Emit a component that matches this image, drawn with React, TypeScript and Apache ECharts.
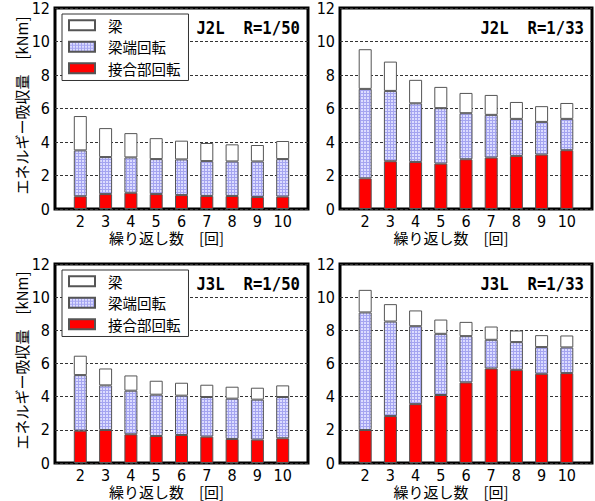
import React, { useEffect, useRef } from "react";
import * as echarts from "echarts";

// Loading cycle number on the x axis; the axis runs from 1 to 11, only 2-10 carry bars
const axisCycles = ["1", "2", "3", "4", "5", "6", "7", "8", "9", "10", "11"];
const cycles = [2, 3, 4, 5, 6, 7, 8, 9, 10];

const seriesNames = ["接合部回転", "梁端回転", "梁"];
const legendOrder = ["梁", "梁端回転", "接合部回転"];
const panelTitles = ["J2L  R=1/50", "J2L  R=1/33", "J3L  R=1/50", "J3L  R=1/33"];
const yTicks = [0, 2, 4, 6, 8, 10, 12];

// Energy absorption per component [kNm]
const j2l50Joint = [0.76, 0.89, 0.97, 0.89, 0.83, 0.78, 0.78, 0.72, 0.74];
const j2l50End = [2.74, 2.21, 2.11, 2.09, 2.13, 2.08, 2.06, 2.12, 2.24];
const j2l50Beam = [2.05, 1.73, 1.45, 1.25, 1.12, 1.08, 1.02, 0.98, 1.08];

const j2l33Joint = [1.83, 2.85, 2.81, 2.71, 2.97, 3.07, 3.17, 3.25, 3.51];
const j2l33End = [5.34, 4.2, 3.5, 3.31, 2.75, 2.55, 2.21, 1.95, 1.87];
const j2l33Beam = [2.37, 1.75, 1.4, 1.27, 1.21, 1.19, 1.01, 0.94, 0.95];

const j3l50Joint = [1.95, 1.99, 1.73, 1.63, 1.69, 1.59, 1.45, 1.41, 1.49];
const j3l50End = [3.35, 2.69, 2.63, 2.49, 2.37, 2.39, 2.43, 2.41, 2.49];
const j3l50Beam = [1.17, 1.02, 0.92, 0.84, 0.78, 0.74, 0.72, 0.72, 0.7];

const j3l33Joint = [1.99, 2.83, 3.55, 4.1, 4.86, 5.7, 5.62, 5.38, 5.42];
const j3l33End = [7.09, 5.7, 4.7, 3.69, 2.79, 1.73, 1.67, 1.61, 1.55];
const j3l33Beam = [1.36, 1.05, 0.95, 0.86, 0.86, 0.8, 0.7, 0.72, 0.72];

const panelData = [
  [j2l50Joint, j2l50End, j2l50Beam],
  [j2l33Joint, j2l33End, j2l33Beam],
  [j3l50Joint, j3l50End, j3l50Beam],
  [j3l33Joint, j3l33End, j3l33Beam],
];

const grids = [
  { left: 55, top: 8, width: 253, height: 201 },
  { left: 340, top: 8, width: 252, height: 201 },
  { left: 55, top: 264, width: 253, height: 199 },
  { left: 340, top: 264, width: 252, height: 199 },
];

const NUM_FONT = "'Liberation Sans Narrow', 'DejaVu Sans Condensed', 'Liberation Sans', sans-serif";
const JP_FONT = "'Noto Sans CJK JP', sans-serif";

function makeMeshPattern(): HTMLCanvasElement {
  const c = document.createElement("canvas");
  c.width = 3;
  c.height = 3;
  const ctx = c.getContext("2d")!;
  ctx.fillStyle = "#dcdcff";
  ctx.fillRect(0, 0, 3, 3);
  ctx.fillStyle = "#a4a4f0";
  ctx.fillRect(0, 0, 3, 1);
  ctx.fillRect(0, 0, 1, 3);
  return c;
}

// Place a value series onto the 1..11 category axis (empty at both ends)
function onAxis(vals: number[]): (number | null)[] {
  return axisCycles.map((c) => {
    const i = cycles.indexOf(Number(c));
    return i >= 0 ? vals[i] : null;
  });
}

export default function App() {
  const ref = useRef<HTMLDivElement>(null);

  useEffect(() => {
    if (!ref.current) return;
    const chart = echarts.init(ref.current, null, { renderer: "svg" });
    const mesh = makeMeshPattern();
    const fills = ["#ff0000", { image: mesh, repeat: "repeat" }, "#ffffff"];

    const series: any[] = [];
    panelData.forEach((comps, p) => {
      comps.forEach((vals, k) => {
        series.push({
          type: "bar",
          name: seriesNames[k],
          stack: "p" + p,
          xAxisIndex: p,
          yAxisIndex: p,
          barWidth: 13,
          itemStyle: { color: fills[k], borderColor: "#555", borderWidth: 1 },
          data: onAxis(vals),
        });
      });
    });

    const graphics: any[] = [];
    grids.forEach((g, p) => {
      graphics.push({
        type: "text",
        x: g.left + g.width - 8,
        y: g.top + 20,
        scaleX: 0.92,
        style: {
          text: panelTitles[p],
          fontFamily: "'DejaVu Sans Mono', monospace",
          fontWeight: "bold",
          fontSize: 17,
          fill: "#000",
          textAlign: "right",
          textVerticalAlign: "middle",
        },
      });
      graphics.push({
        type: "text",
        x: g.left + g.width / 2 - 15,
        y: g.top + g.height + 28,
        style: {
          text: "繰り返し数　[回]",
          fontFamily: JP_FONT,
          fontSize: 15,
          lineHeight: 15,
          fill: "#000",
          textAlign: "center",
          textVerticalAlign: "middle",
        },
      });
    });
    [0, 2].forEach((p) => {
      const g = grids[p];
      graphics.push({
        type: "text",
        x: 21,
        y: g.top + g.height / 2 - 3,
        rotation: Math.PI / 2,
        style: {
          text: "エネルギー吸収量　[kNm]",
          fontFamily: JP_FONT,
          fontSize: 15,
          fill: "#000",
          textAlign: "center",
          textVerticalAlign: "middle",
        },
      });
    });

    const legends = [0, 2].map((p) => ({
      orient: "vertical",
      left: grids[p].left + 7,
      top: grids[p].top + 6,
      data: legendOrder,
      icon: "rect",
      itemWidth: 26,
      itemHeight: 10,
      itemGap: 7,
      padding: [4, 8, 5, 6],
      backgroundColor: "#fff",
      borderColor: "#333",
      borderWidth: 1,
      selectedMode: false,
      textStyle: { fontFamily: JP_FONT, fontSize: 14.5, color: "#000", padding: [0, 0, 0, 8] },
    }));

    chart.setOption({
      animation: false,
      backgroundColor: "#fff",
      grid: grids.map((g) => ({
        ...g,
        show: true,
        borderColor: "#000",
        borderWidth: 3,
        backgroundColor: "transparent",
      })),
      xAxis: grids.map((_, p) => ({
        type: "category",
        gridIndex: p,
        data: axisCycles,
        boundaryGap: false,
        axisLine: { show: false },
        axisTick: { show: false },
        splitLine: { show: false },
        axisLabel: {
          margin: 5,
          interval: 0,
          fontFamily: NUM_FONT,
          fontSize: 16,
          lineHeight: 14,
          color: "#000",
          formatter: (v: string) => (v === "1" || v === "11" ? "" : v),
        },
      })),
      yAxis: grids.map((_, p) => ({
        type: "value",
        gridIndex: p,
        min: yTicks[0],
        max: yTicks[yTicks.length - 1],
        interval: 2,
        axisLine: { show: false },
        axisTick: { show: false },
        splitLine: { show: true, lineStyle: { color: "#333", width: 1, type: [3, 2] } },
        axisLabel: { margin: 5, fontFamily: NUM_FONT, fontSize: 16, color: "#000" },
      })),
      legend: legends,
      series,
      graphic: graphics,
    });

    return () => chart.dispose();
  }, []);

  return (
    <div
      ref={ref}
      style={{ position: "absolute", left: 0, top: 0, width: 595, height: 501, background: "#fff" }}
    />
  );
}
